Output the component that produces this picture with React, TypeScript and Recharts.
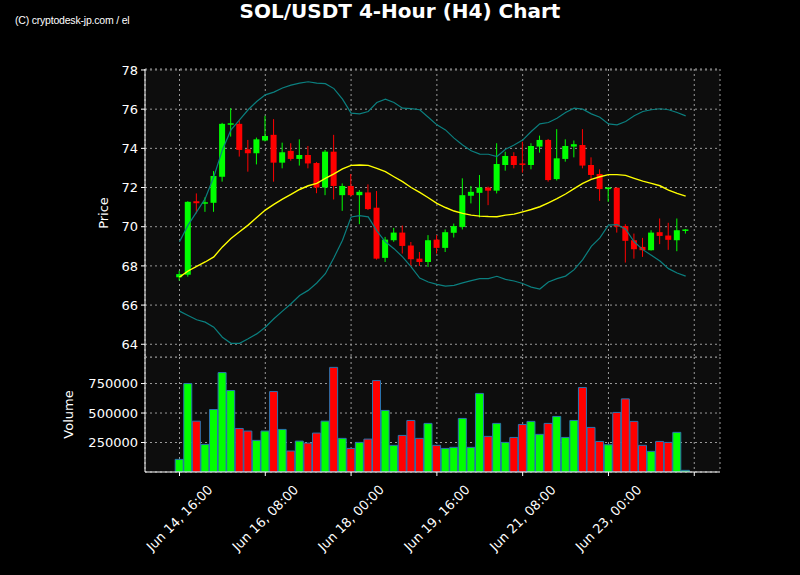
import { ComposedChart, Bar, Line, XAxis, YAxis, CartesianGrid, Cell } from 'recharts';

// 4h candles, Jun 14 16:00 -> Jun 24 12:00
const OPEN = [
  67.42, 67.55, 71.3, 71.2, 71.22, 72.55, 75.22, 75.25, 73.95, 73.75,
  74.4, 74.69, 73.27, 73.87, 73.46, 73.66, 73.25, 72.0, 73.83, 71.61,
  72.08, 71.61, 71.75, 70.97, 68.41, 69.31, 69.7, 69.04, 68.37, 68.2,
  69.34, 68.92, 69.69, 69.99, 71.58, 71.73, 72.0, 71.84, 73.15, 73.61,
  73.23, 73.15, 74.09, 74.43, 72.43, 73.46, 74.09, 74.17, 73.15, 72.69,
  71.92, 71.99, 70.03, 69.31, 68.97, 68.8, 69.72, 69.55, 69.31, 69.8,
];
const HIGH = [
  67.75, 71.3, 71.7, 71.5, 72.84, 75.3, 76.05, 75.42, 74.43, 74.55,
  75.66, 75.49, 74.29, 74.26, 74.46, 74.12, 73.3, 73.92, 74.69, 72.21,
  72.69, 71.87, 72.16, 71.82, 69.48, 69.94, 70.06, 69.22, 68.71, 69.57,
  69.57, 69.86, 70.16, 72.47, 72.08, 72.64, 72.05, 74.26, 73.83, 73.8,
  74.34, 74.26, 74.65, 74.48, 74.98, 74.46, 74.4, 74.98, 73.54, 72.93,
  72.02, 72.0, 70.13, 69.65, 69.43, 69.82, 70.42, 70.2, 70.42, 69.88,
];
const LOW = [
  67.25, 67.45, 70.68, 70.76, 70.76, 72.3, 74.6, 73.58, 72.81, 73.18,
  74.35, 72.3, 72.98, 73.37, 73.12, 72.98, 71.71, 71.61, 71.39, 70.81,
  71.53, 70.13, 70.85, 68.32, 68.2, 69.23, 68.63, 67.95, 68.0, 67.95,
  68.63, 68.71, 69.45, 69.86, 71.19, 70.47, 71.1, 71.7, 72.86, 72.98,
  72.76, 72.93, 73.78, 72.3, 72.36, 73.32, 73.54, 72.98, 72.42, 71.32,
  71.27, 69.7, 68.17, 68.37, 68.46, 68.78, 69.11, 68.82, 68.75, 69.65,
];
const CLOSE = [
  67.58, 71.27, 71.2, 71.25, 72.59, 75.25, 75.28, 73.92, 73.75, 74.46,
  74.63, 73.27, 73.8, 73.46, 73.66, 73.23, 72.0, 73.83, 72.08, 72.08,
  71.61, 71.78, 70.9, 68.37, 69.34, 69.7, 69.02, 68.34, 68.2, 69.31,
  68.92, 69.72, 70.03, 71.61, 71.78, 72.0, 71.84, 73.2, 73.61, 73.15,
  73.18, 74.12, 74.43, 72.38, 73.49, 74.12, 74.21, 73.12, 72.64, 71.92,
  72.0, 70.0, 69.28, 68.85, 68.8, 69.7, 69.53, 69.33, 69.82, 69.86,
];
const VOLUME = [
  107000, 750000, 431000, 234000, 530000, 843000, 691000, 369000, 347000, 268000,
  347000, 682000, 361000, 178000, 262000, 245000, 330000, 431000, 887000, 285000,
  200000, 251000, 279000, 775000, 522000, 226000, 310000, 437000, 285000, 412000,
  226000, 200000, 209000, 454000, 209000, 666000, 302000, 412000, 251000, 293000,
  403000, 429000, 319000, 412000, 471000, 293000, 437000, 716000, 378000, 259000,
  231000, 505000, 620000, 429000, 226000, 175000, 259000, 251000, 336000, 14000,
];
// Bollinger bands
const BB_UPPER = [
  69.23, 70.08, 70.76, 71.44, 72.55, 73.92, 74.94, 75.45, 75.97, 76.39,
  76.73, 76.87, 77.08, 77.23, 77.33, 77.4, 77.33, 77.3, 77.05, 76.51,
  75.8, 75.76, 75.88, 76.34, 76.51, 76.34, 76.05, 76.03, 75.97, 75.59,
  75.2, 74.94, 74.52, 74.17, 73.88, 73.71, 73.7, 73.58, 73.95, 74.17,
  74.42, 74.86, 75.25, 75.32, 75.54, 75.83, 76.05, 76.0, 75.76, 75.59,
  75.25, 75.2, 75.37, 75.66, 75.88, 75.97, 76.02, 75.97, 75.83, 75.66,
];
const BB_MID = [
  67.43, 67.74, 67.98, 68.2, 68.46, 68.97, 69.4, 69.74, 70.08, 70.47,
  70.85, 71.14, 71.41, 71.65, 71.9, 72.09, 72.21, 72.47, 72.7, 72.95,
  73.13, 73.15, 73.13, 72.98, 72.81, 72.55, 72.3, 72.0, 71.75, 71.48,
  71.19, 70.98, 70.8, 70.68, 70.59, 70.54, 70.52, 70.51, 70.59, 70.64,
  70.76, 70.88, 71.02, 71.22, 71.43, 71.67, 71.94, 72.21, 72.42, 72.55,
  72.66, 72.66, 72.62, 72.47, 72.33, 72.21, 72.09, 71.87, 71.7, 71.56,
];
const BB_LOWER = [
  65.69, 65.47, 65.25, 65.13, 64.87, 64.36, 64.05, 64.05, 64.28, 64.53,
  64.87, 65.3, 65.69, 66.07, 66.49, 66.75, 67.13, 67.6, 68.42, 69.31,
  70.5, 70.57, 70.5, 69.79, 69.23, 68.88, 68.46, 67.95, 67.38, 67.18,
  67.06, 66.97, 67.01, 67.13, 67.25, 67.35, 67.35, 67.47, 67.31, 67.23,
  67.1, 66.92, 66.82, 67.18, 67.35, 67.48, 67.81, 68.32, 69.0, 69.43,
  70.08, 70.11, 69.87, 69.23, 68.83, 68.54, 68.25, 67.86, 67.64, 67.48,
];

const X_TICKS = [0, 10, 20, 30, 40, 50, 60];
const X_TICK_LABELS = ['Jun 14, 16:00', 'Jun 16, 08:00', 'Jun 18, 00:00', 'Jun 19, 16:00', 'Jun 21, 08:00', 'Jun 23, 00:00', ''];
const PRICE_TICKS = [64, 66, 68, 70, 72, 74, 76, 78];
const VOLUME_TICKS = [250000, 500000, 750000];

const UP = '#00ff00';
const DOWN = '#ff0000';
const FONT = '"DejaVu Sans", sans-serif';
const X_DOMAIN = [-4.02, 63];
const PRICE_DOMAIN = [63.35, 78.05];
const VOLUME_DOMAIN = [0, 975000];

const data = OPEN.map((open, i) => ({
  i,
  open,
  high: HIGH[i],
  low: LOW[i],
  close: CLOSE[i],
  volume: VOLUME[i],
  upper: BB_UPPER[i],
  mid: BB_MID[i],
  lower: BB_LOWER[i],
}));

const Candle = (props: any) => {
  const { x, y, width, height, payload } = props;
  const { open, close, high, low } = payload;
  const top = Math.min(y, y + height);
  const h = Math.abs(height);
  const k = h / (high - low);
  const yOf = (v: number) => top + (high - v) * k;
  const color = close >= open ? UP : DOWN;
  const cx = x + width / 2;
  const bodyTop = yOf(Math.max(open, close));
  const bodyH = Math.max(1.5, Math.abs(yOf(open) - yOf(close)));
  return (
    <g>
      <line x1={cx} x2={cx} y1={top} y2={top + h} stroke={color} strokeWidth={1} />
      <rect x={x} y={bodyTop} width={width} height={bodyH} fill={color} />
    </g>
  );
};

const RotatedTick = (props: any) => {
  const { x, y, payload } = props;
  const label = X_TICK_LABELS[X_TICKS.indexOf(payload.value)] ?? '';
  const cy = y + 40;
  return (
    <text
      x={x}
      y={cy}
      fill="#fff"
      fontSize={13}
      fontFamily={FONT}
      textAnchor="middle"
      dominantBaseline="central"
      transform={`rotate(-45, ${x}, ${cy})`}
    >
      {label}
    </text>
  );
};

const axisLabel = (text: string, dist: number) => (props: any) => {
  const { x, y, width, height } = props.viewBox;
  const lx = x + width - dist;
  const ly = y + height / 2;
  return (
    <text
      x={lx}
      y={ly}
      fill="#fff"
      fontSize={13}
      fontFamily={FONT}
      textAnchor="middle"
      dominantBaseline="central"
      transform={`rotate(-90, ${lx}, ${ly})`}
    >
      {text}
    </text>
  );
};

const gridProps = { stroke: '#9a9a9a', strokeDasharray: '2 3', fill: '#0d0d0d' };
const tickStyle = { fill: '#fff', fontSize: 13, fontFamily: FONT };

export default function App() {
  return (
    <div style={{ position: 'absolute', left: 0, top: 0, width: 800, height: 575, background: '#000', overflow: 'hidden' }}>
      <div style={{ position: 'absolute', left: 15, top: 14, color: '#fff', fontFamily: '"Liberation Sans", Arial, sans-serif', fontSize: 10.5, lineHeight: '12px', letterSpacing: -0.2 }}>
        (C) cryptodesk-jp.com / el
      </div>
      <div style={{ position: 'absolute', left: 0, top: 0, width: 800, textAlign: 'center', color: '#fff', fontFamily: FONT, fontWeight: 'bold', fontSize: 20, lineHeight: '22px' }}>
        SOL/USDT 4-Hour (H4) Chart
      </div>

      {/* Volume panel */}
      <div style={{ position: 'absolute', left: 0, top: 354 }}>
        <ComposedChart width={800} height={221} data={data} margin={{ top: 3, right: 80, bottom: 0, left: 0 }}>
          <CartesianGrid {...gridProps} />
          <XAxis
            dataKey="i"
            type="number"
            domain={X_DOMAIN}
            allowDataOverflow
            ticks={X_TICKS}
            interval={0}
            height={103}
            tickSize={4}
            tickMargin={2}
            stroke="#fff"
            tick={<RotatedTick />}
          />
          <XAxis xAxisId="top" orientation="top" type="number" domain={X_DOMAIN} allowDataOverflow height={0} tick={false} tickLine={false} stroke="#fff" />
          <YAxis
            type="number"
            domain={VOLUME_DOMAIN}
            allowDataOverflow
            ticks={VOLUME_TICKS}
            interval={0}
            width={145}
            tickSize={4}
            tickMargin={3}
            stroke="#fff"
            tick={tickStyle}
            label={{ content: axisLabel('Volume', 77) }}
          />
          <YAxis yAxisId="right" orientation="right" type="number" domain={VOLUME_DOMAIN} width={0} tick={false} tickLine={false} stroke="#fff" />
          <Bar dataKey="volume" barSize={8} stroke="#2a74b0" strokeWidth={1} isAnimationActive={false}>
            {data.map((d, idx) => (
              <Cell key={`v-${idx}`} fill={d.close >= d.open ? UP : DOWN} />
            ))}
          </Bar>
        </ComposedChart>
      </div>

      {/* Price panel */}
      <div style={{ position: 'absolute', left: 0, top: 0 }}>
        <ComposedChart width={800} height={360} data={data} margin={{ top: 69, right: 80, bottom: 3, left: 61 }}>
          <CartesianGrid {...gridProps} />
          <XAxis
            dataKey="i"
            type="number"
            domain={X_DOMAIN}
            allowDataOverflow
            ticks={X_TICKS}
            interval={0}
            height={0}
            tickLine={false}
            tickFormatter={() => ''}
            stroke="#fff"
          />
          <XAxis xAxisId="top" orientation="top" type="number" domain={X_DOMAIN} allowDataOverflow height={0} tick={false} tickLine={false} stroke="#fff" />
          <YAxis
            type="number"
            domain={PRICE_DOMAIN}
            allowDataOverflow
            ticks={PRICE_TICKS}
            interval={0}
            width={84}
            tickSize={4}
            tickMargin={3}
            stroke="#fff"
            tick={tickStyle}
            label={{ content: axisLabel('Price', 42) }}
          />
          <YAxis yAxisId="right" orientation="right" type="number" domain={PRICE_DOMAIN} width={0} tick={false} tickLine={false} stroke="#fff" />
          <Line dataKey="upper" type="linear" stroke="#0b7f7f" strokeWidth={1.2} dot={false} isAnimationActive={false} />
          <Line dataKey="lower" type="linear" stroke="#0b7f7f" strokeWidth={1.2} dot={false} isAnimationActive={false} />
          <Line dataKey="mid" type="linear" stroke="#ffff00" strokeWidth={1.4} dot={false} isAnimationActive={false} />
          <Bar dataKey={(d: any) => [d.low, d.high]} barSize={6} shape={<Candle />} isAnimationActive={false} />
        </ComposedChart>
      </div>
    </div>
  );
}
